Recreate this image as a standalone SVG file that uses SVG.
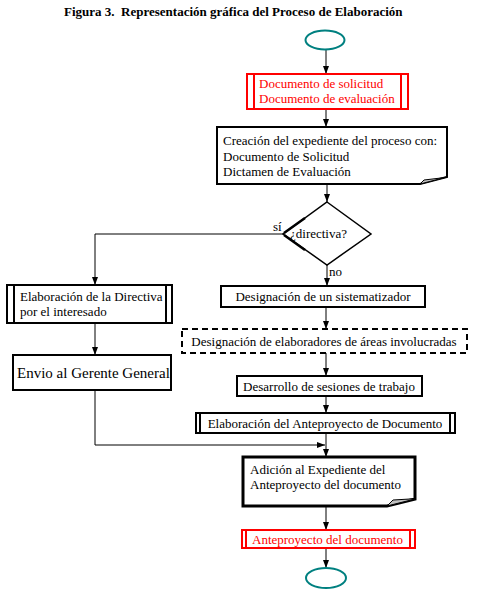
<svg xmlns="http://www.w3.org/2000/svg" width="477" height="597" viewBox="0 0 477 597" font-family="'Liberation Serif','Times New Roman',serif">
<defs>
<style>
text{font-family:"Liberation Serif","Times New Roman",serif;font-size:13px;fill:#000}
.red{fill:#ff0000}
.box{fill:#fff;stroke:#000;stroke-width:2}
.rbox{fill:#fff;stroke:#ff0000;stroke-width:2}
.conn{fill:none;stroke:#000;stroke-width:1}
.term{fill:#fff;stroke:#008080;stroke-width:2}
</style>
<marker id="ah" viewBox="0 0 8 6" refX="8" refY="3" markerWidth="8" markerHeight="6" markerUnits="userSpaceOnUse" orient="auto">
<path d="M0,0 L8,3 L0,6 Z" fill="#000"/>
</marker>
</defs>
<rect width="477" height="597" fill="#fff"/>
<text x="64" y="16" style="font-weight:bold;font-size:13px;white-space:pre" xml:space="preserve">Figura 3.  Representación gráfica del Proceso de Elaboración</text>

<g id="connectors">
<line class="conn" x1="326" y1="50" x2="326" y2="74" marker-end="url(#ah)"/>
<line class="conn" x1="326" y1="109" x2="326" y2="127" marker-end="url(#ah)"/>
<line class="conn" x1="327" y1="184" x2="327" y2="202" marker-end="url(#ah)"/>
<polyline class="conn" points="283,234 95,234 95,285" marker-end="url(#ah)"/>
<line class="conn" x1="95" y1="323" x2="95" y2="355" marker-end="url(#ah)"/>
<polyline class="conn" points="95,390 95,445 325,445" marker-end="url(#ah)"/>
<line class="conn" x1="327" y1="265" x2="327" y2="286" marker-end="url(#ah)"/>
<line class="conn" x1="326" y1="307" x2="326" y2="329" marker-end="url(#ah)"/>
<line class="conn" x1="326" y1="353" x2="326" y2="376" marker-end="url(#ah)"/>
<line class="conn" x1="326" y1="396" x2="326" y2="413" marker-end="url(#ah)"/>
<line class="conn" x1="326" y1="433" x2="326" y2="457" marker-end="url(#ah)"/>
<line class="conn" x1="326" y1="506" x2="326" y2="530" marker-end="url(#ah)"/>
<line class="conn" x1="326" y1="548" x2="326" y2="568" marker-end="url(#ah)"/>
<text x="273" y="231">sí</text>
<text x="329" y="276">no</text>
</g>

<g id="start"><ellipse class="term" cx="325" cy="40" rx="19.5" ry="9.5"/></g>

<g id="docs-in">
<rect class="rbox" x="247" y="74" width="161" height="35"/>
<line x1="254" y1="74" x2="254" y2="109" stroke="#ff0000" stroke-width="2"/>
<line x1="401" y1="74" x2="401" y2="109" stroke="#ff0000" stroke-width="2"/>
<text class="red" x="259" y="88">Documento de solicitud</text>
<text class="red" x="259" y="103">Documento de evaluación</text>
</g>

<g id="creacion">
<path class="box" d="M217,127 H447 V177 L420,184 H217 Z"/>
<path d="M420,184 L424,180 L441,178 L447,177 Z" fill="#c0c0c0" stroke="#000" stroke-width="1"/>
<text x="223" y="145">Creación del expediente del proceso con:</text>
<text x="223" y="161">Documento de Solicitud</text>
<text x="223" y="176">Dictamen de Evaluación</text>
</g>

<g id="decision">
<polygon points="327,202 371,234 327,265 283,234" fill="#fff" stroke="#000" stroke-width="1.5"/>
<line x1="284" y1="233" x2="305" y2="218" stroke="#000" stroke-width="2.5"/>
<line x1="284" y1="235" x2="305" y2="250" stroke="#000" stroke-width="2.5"/>
<text x="290" y="238">¿directiva?</text>
</g>

<g id="elab-directiva">
<rect class="box" x="7" y="285" width="165" height="38"/>
<line x1="14" y1="285" x2="14" y2="323" stroke="#000" stroke-width="2"/>
<line x1="166" y1="285" x2="166" y2="323" stroke="#000" stroke-width="2"/>
<text x="20" y="301">Elaboración de la Directiva</text>
<text x="20" y="316">por el interesado</text>
</g>

<g id="envio">
<rect class="box" x="13" y="355" width="158" height="35"/>
<text x="17" y="378" style="font-size:15px">Envio al Gerente General</text>
</g>

<g id="sistematizador">
<rect class="box" x="221" y="286" width="204" height="21"/>
<text x="323" y="301" text-anchor="middle">Designación de un sistematizador</text>
</g>

<g id="elaboradores">
<rect x="182" y="329" width="285" height="24" fill="#fff" stroke="#000" stroke-width="2" stroke-dasharray="6,4"/>
<text x="324" y="346" text-anchor="middle">Designación de elaboradores de áreas involucradas</text>
</g>

<g id="sesiones">
<rect class="box" x="237" y="376" width="185" height="20"/>
<text x="329" y="391" text-anchor="middle">Desarrollo de sesiones de trabajo</text>
</g>

<g id="anteproyecto">
<rect class="box" x="196" y="413" width="259" height="20"/>
<line x1="200" y1="413" x2="200" y2="433" stroke="#000" stroke-width="2"/>
<line x1="450" y1="413" x2="450" y2="433" stroke="#000" stroke-width="2"/>
<text x="325" y="428" text-anchor="middle">Elaboración del Anteproyecto de Documento</text>
</g>

<g id="adicion">
<path d="M243,457 H415 V499 L387,506 H243 Z" fill="#fff" stroke="#000" stroke-width="3"/>
<path d="M387,506 L393,500 L410,499 L415,499 Z" fill="#c0c0c0" stroke="#000" stroke-width="1"/>
<text x="250" y="474">Adición al Expediente del</text>
<text x="250" y="489">Anteproyecto del documento</text>
</g>

<g id="doc-out">
<rect class="rbox" x="242" y="530" width="173" height="18"/>
<line x1="246" y1="530" x2="246" y2="548" stroke="#ff0000" stroke-width="2"/>
<line x1="410" y1="530" x2="410" y2="548" stroke="#ff0000" stroke-width="2"/>
<text class="red" x="252" y="544">Anteproyecto del documento</text>
</g>

<g id="end"><ellipse class="term" cx="326" cy="578" rx="20" ry="10"/></g>
</svg>
